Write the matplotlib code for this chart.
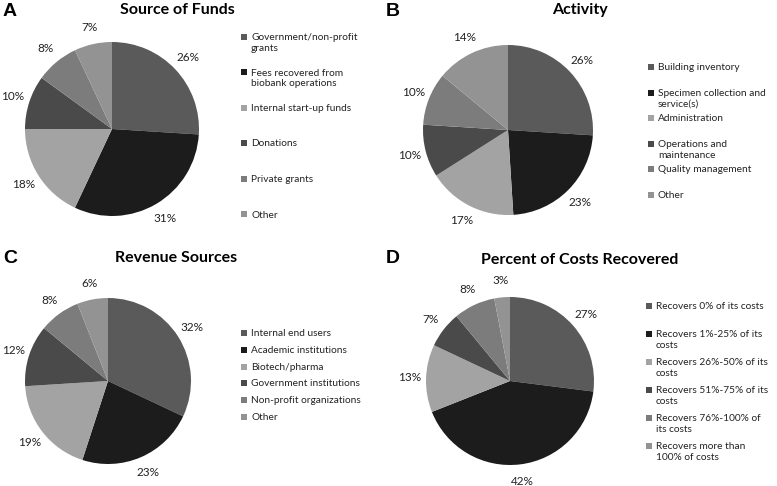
import matplotlib
matplotlib.use("Agg")
import matplotlib.pyplot as plt
from matplotlib.patches import Rectangle

W, H = 777, 486

colors = ["#5a5a5a", "#1c1c1c", "#a3a3a3", "#4a4a4a", "#7c7c7c", "#939393"]

# panel A
funds_labels = ["Government/non-profit\ngrants", "Fees recovered from\nbiobank operations",
                "Internal start-up funds", "Donations", "Private grants", "Other"]
funds_vals = [26, 31, 18, 10, 8, 7]

# panel B
activity_labels = ["Building inventory", "Specimen collection and\nservice(s)", "Administration",
                   "Operations and\nmaintenance", "Quality management", "Other"]
activity_vals = [26, 23, 17, 10, 10, 14]

# panel C
revenue_labels = ["Internal end users", "Academic institutions", "Biotech/pharma",
                  "Government institutions", "Non-profit organizations", "Other"]
revenue_vals = [32, 23, 19, 12, 8, 6]

# panel D
costs_labels = ["Recovers 0% of its costs", "Recovers 1%-25% of its\ncosts",
                "Recovers 26%-50% of its\ncosts", "Recovers 51%-75% of its\ncosts",
                "Recovers 76%-100% of\nits costs", "Recovers more than\n100% of costs"]
costs_vals = [27, 42, 13, 7, 8, 3]

plt.rcParams["font.family"] = ["Lato", "DejaVu Sans"]

fig = plt.figure(figsize=(W / 100, H / 100), dpi=100)


def pie_panel(vals, cx, cy, r, letter, lx, ly, title, tx, ty, leg_labels, legx, legy, legstep):
    ax = fig.add_axes([(cx - r) / W, 1 - (cy + r) / H, 2 * r / W, 2 * r / H])
    wedges, texts = ax.pie(vals, colors=colors, startangle=90, counterclock=False,
                           labels=[f"{v}%" for v in vals], labeldistance=1.2,
                           wedgeprops=dict(linewidth=0),
                           textprops=dict(fontsize=8.5, color="#222222"))
    for t in texts:
        t.set_ha("center")
        t.set_va("center")
    ax.set_xlim(-1, 1)
    ax.set_ylim(-1, 1)
    ax.set_aspect("equal")
    fig.text(lx / W, 1 - ly / H, letter, fontsize=14, fontweight="bold",
             family="Liberation Sans", va="center", ha="left")
    fig.text(tx / W, 1 - ty / H, title, fontsize=11.5, fontweight="bold",
             va="center", ha="center")
    for i, lab in enumerate(leg_labels):
        y = legy + i * legstep
        fig.patches.append(Rectangle((legx / W, 1 - (y + 3) / H), 6 / W, 6 / H,
                                     transform=fig.transFigure, color=colors[i], lw=0))
        fig.text((legx + 10) / W, 1 - (y - 4) / H, lab, fontsize=7.3, va="top",
                 ha="left", color="#222222", linespacing=1.25)


pie_panel(funds_vals, 112, 129, 87, "A", 3, 11, "Source of Funds", 177, 10,
          funds_labels, 241, 37, 35.5)
pie_panel(activity_vals, 508, 130, 85, "B", 386, 11, "Activity", 580, 10,
          activity_labels, 648, 67, 25.6)
pie_panel(revenue_vals, 108, 381, 83, "C", 3, 258, "Revenue Sources", 176, 258,
          revenue_labels, 241, 333, 16.8)
pie_panel(costs_vals, 510, 381, 84, "D", 386, 258, "Percent of Costs Recovered", 580, 260,
          costs_labels, 646, 306, 28)

fig.savefig("out.png", dpi=100)
